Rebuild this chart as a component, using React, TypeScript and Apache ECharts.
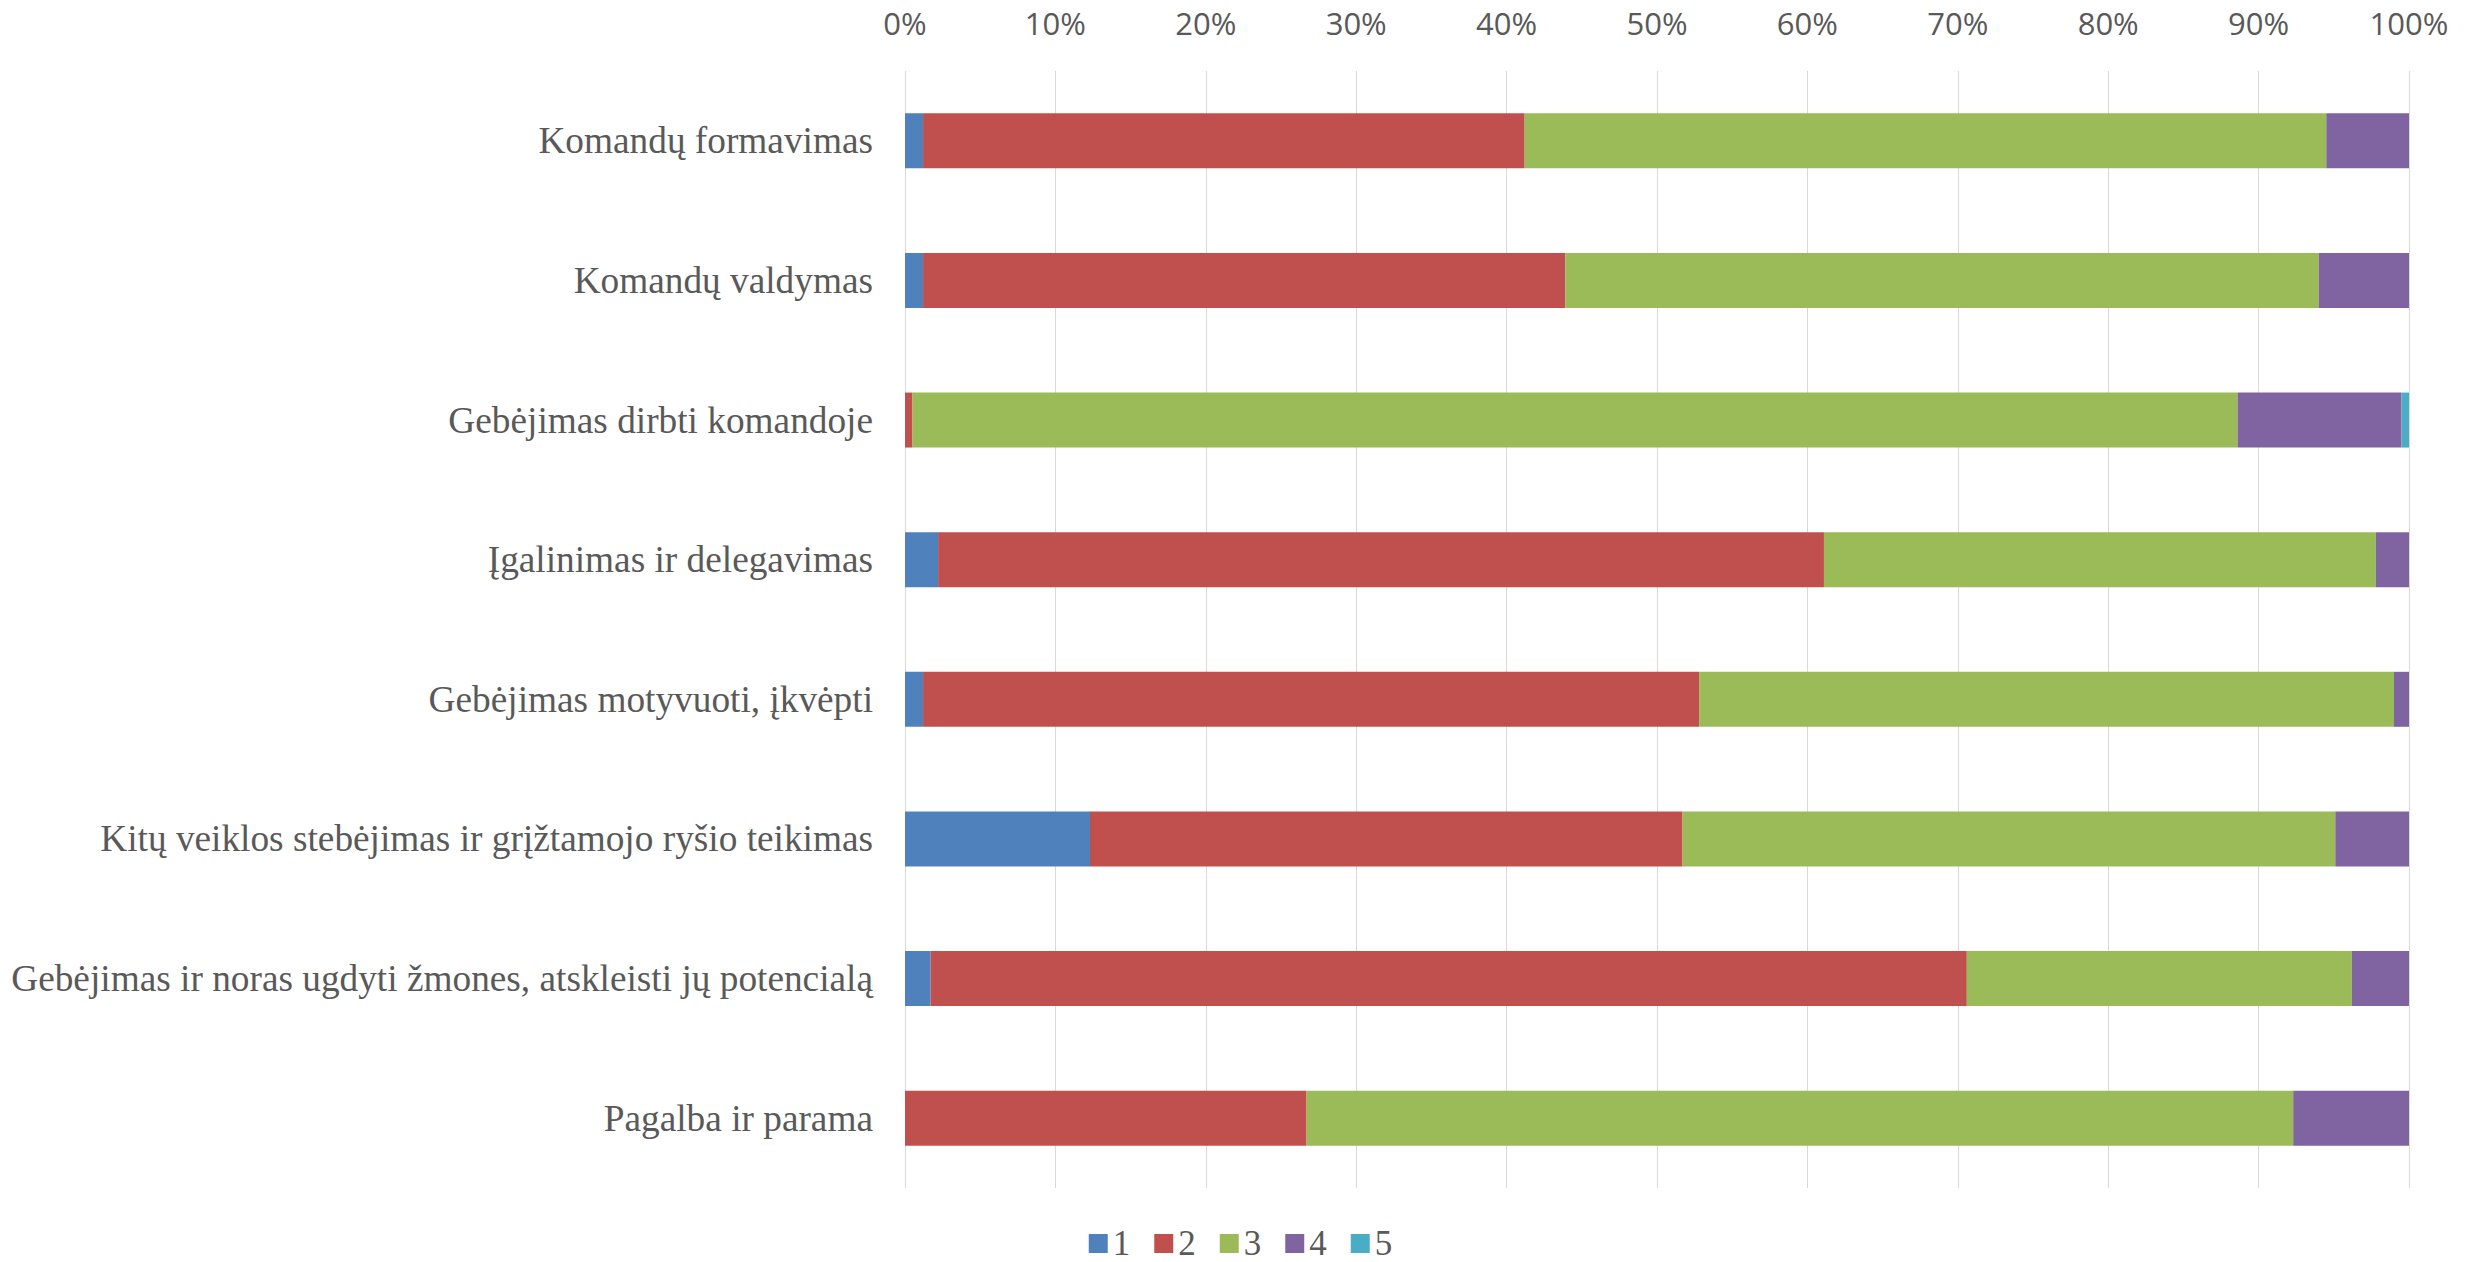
import React, { useEffect, useRef } from "react";
import * as echarts from "echarts";

const categories = [
  "Komandų formavimas",
  "Komandų valdymas",
  "Gebėjimas dirbti komandoje",
  "Įgalinimas ir delegavimas",
  "Gebėjimas motyvuoti, įkvėpti",
  "Kitų veiklos stebėjimas ir grįžtamojo ryšio teikimas",
  "Gebėjimas ir noras ugdyti žmones, atskleisti jų potencialą",
  "Pagalba ir parama",
];

const seriesNames = ["1", "2", "3", "4", "5"];
const values1 = [1.2, 1.2, 0, 2.2, 1.2, 12.3, 1.7, 0];
const values2 = [40.0, 42.7, 0.5, 58.9, 51.6, 39.4, 68.9, 26.7];
const values3 = [53.3, 50.1, 88.1, 36.7, 46.2, 43.4, 25.6, 65.6];
const values4 = [5.5, 6.0, 10.9, 2.2, 1.0, 4.9, 3.8, 7.7];
const values5 = [0, 0, 0.5, 0, 0, 0, 0, 0];
const colors = ["#4F81BD", "#C0504D", "#9BBB59", "#8064A2", "#4BACC6"];

export default function App() {
  const ref = useRef<HTMLDivElement>(null);
  useEffect(() => {
    if (!ref.current) return;
    const chart = echarts.init(ref.current, undefined, { renderer: "svg" });
    const all = [values1, values2, values3, values4, values5];
    chart.setOption({
      animation: false,
      backgroundColor: "#ffffff",
      color: colors,
      grid: { left: 905, right: 72, top: 71, bottom: 74, containLabel: false },
      legend: {
        top: 1226,
        left: "center",
        padding: 0,
        itemWidth: 19,
        itemHeight: 19,
        itemGap: 24,
        icon: "rect",
        textStyle: {
          fontFamily: "Liberation Serif",
          fontSize: 35,
          lineHeight: 34,
          color: "#595959",
        },
        data: seriesNames,
      },
      xAxis: {
        type: "value",
        position: "top",
        min: 0,
        max: 100,
        interval: 10,
        axisLine: { show: false },
        axisTick: { show: false },
        splitLine: { show: true, lineStyle: { color: "#D9D9D9", width: 1 } },
        axisLabel: {
          formatter: "{value}%",
          fontFamily: "Open Sans",
          fontSize: 31,
          color: "#595959",
          margin: 33,
        },
      },
      yAxis: {
        type: "category",
        inverse: true,
        data: categories,
        axisLine: { show: false },
        axisTick: { show: false },
        splitLine: { show: false },
        axisLabel: {
          fontFamily: "Liberation Serif",
          fontSize: 37.3,
          color: "#595959",
          margin: 32,
        },
      },
      series: seriesNames.map((n, i) => ({
        name: n,
        type: "bar",
        stack: "total",
        barWidth: 55,
        data: all[i],
        itemStyle: { color: colors[i] },
      })),
    });
    return () => chart.dispose();
  }, []);
  return (
    <div
      ref={ref}
      style={{ position: "fixed", left: 0, top: 0, width: 2481, height: 1262 }}
    />
  );
}
